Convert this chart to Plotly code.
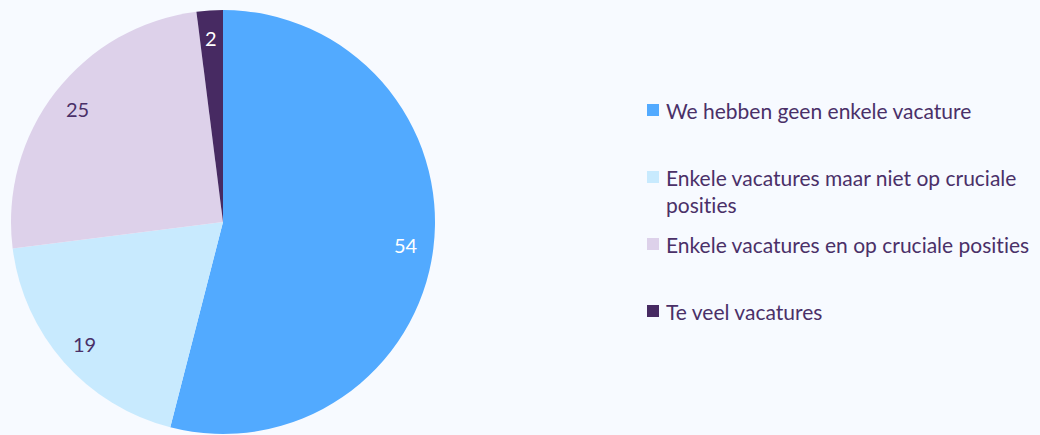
import math
import plotly.graph_objects as go

# ---- data ----
labels = [
    "We hebben geen enkele vacature",
    "Enkele vacatures maar niet op cruciale posities",
    "Enkele vacatures en op cruciale posities",
    "Te veel vacatures",
]
legend_labels = [
    "We hebben geen enkele vacature",
    "Enkele vacatures maar niet op cruciale<br>posities",
    "Enkele vacatures en op cruciale posities",
    "Te veel vacatures",
]
values = [54, 19, 25, 2]

# ---- style ----
colors = ["#52aaff", "#c8eafe", "#ddd1ea", "#472a62"]
label_colors = ["#ffffff", "#4a3068", "#4a3068", "#ffffff"]
text_color = "#4a3068"
bg = "#f7faff"
W, H = 1040, 435
cx, cy, R = 223, 222, 212
label_r = 0.87


def no_lig(s):
    # break the Lato "ti" ligature so text renders like the reference
    return s.replace("ti", "t\u200ci")


fig = go.Figure()
fig.add_trace(go.Pie(
    labels=labels,
    values=values,
    sort=False,
    direction="clockwise",
    rotation=0,
    marker=dict(colors=colors, line=dict(width=0)),
    textinfo="none",
    hoverinfo="label+value",
    showlegend=False,
    domain=dict(x=[(cx - R) / W, (cx + R) / W], y=[1 - (cy + R) / H, 1 - (cy - R) / H]),
))

annotations = []
shapes = []
total = sum(values)
cum = 0
for v, lc in zip(values, label_colors):
    mid = (cum + v / 2) / total * 2 * math.pi
    cum += v
    px = cx + label_r * R * math.sin(mid)
    py = cy - label_r * R * math.cos(mid)
    annotations.append(dict(
        x=px / W, y=1 - py / H, xref="paper", yref="paper",
        text=str(v), showarrow=False, xanchor="center", yanchor="middle",
        font=dict(family="Lato", size=20, color=lc),
    ))

# legend (drawn manually)
leg_y0, leg_step = 110, 67
for i, (name, c) in enumerate(zip(legend_labels, colors)):
    yc = leg_y0 + i * leg_step
    shapes.append(dict(
        type="rect", xref="paper", yref="paper",
        x0=647 / W, x1=659 / W, y0=1 - (yc + 6) / H, y1=1 - (yc - 6) / H,
        fillcolor=c, line=dict(width=0),
    ))
    annotations.append(dict(
        x=664 / W, y=1 - (yc - 14.5) / H, xref="paper", yref="paper",
        text=no_lig(name), showarrow=False, xanchor="left", yanchor="top", align="left",
        font=dict(family="Lato", size=21, color=text_color),
    ))

fig.update_layout(
    width=W, height=H,
    margin=dict(l=0, r=0, t=0, b=0),
    paper_bgcolor=bg, plot_bgcolor=bg,
    annotations=annotations, shapes=shapes,
    font=dict(family="Lato", color=text_color),
)
fig.write_html(
    "out.html",
    config={"displayModeBar": False},
    post_script="document.body.style.margin='0';document.body.style.background='%s';" % bg,
)
